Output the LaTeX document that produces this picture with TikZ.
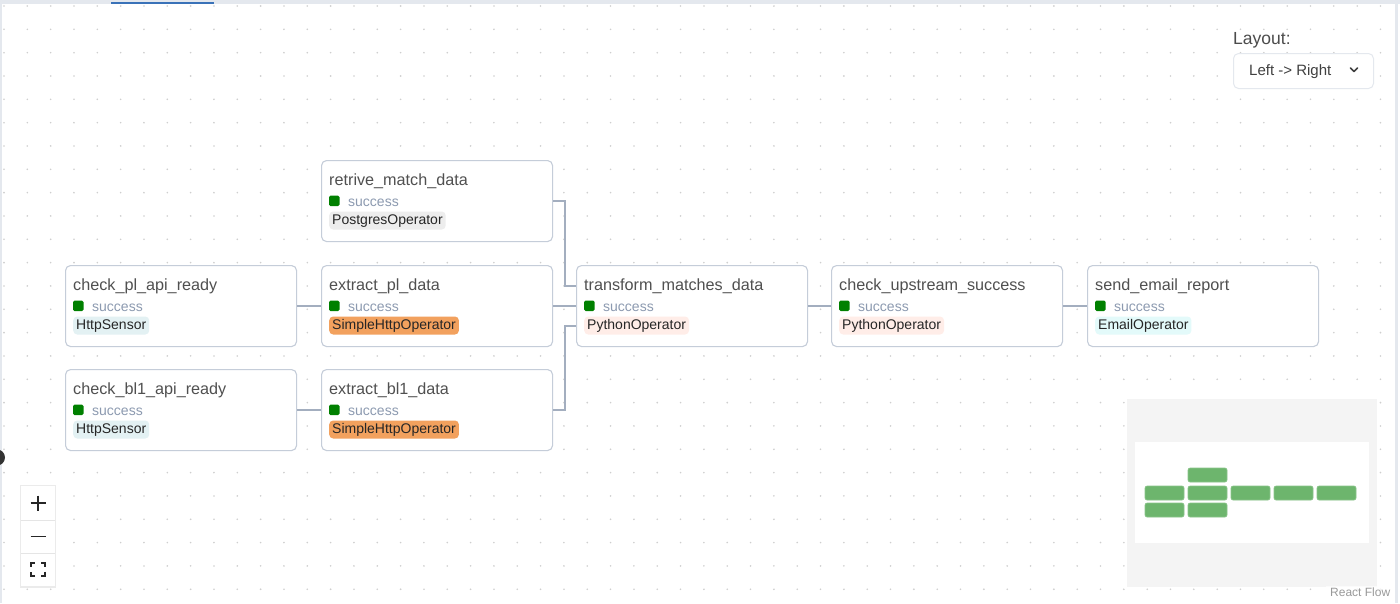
\documentclass[tikz,border=0pt]{standalone}
\usepackage{fontspec}
\setmainfont{Liberation Sans}
\usetikzlibrary{calc}
\definecolor{nodeborder}{HTML}{C5CDD9}
\definecolor{edgecol}{HTML}{A3AEBF}
\definecolor{titlecol}{HTML}{505050}
\definecolor{succtext}{HTML}{8C9AB0}
\definecolor{succgreen}{HTML}{008000}
\definecolor{dotcol}{HTML}{CFCFCF}
\definecolor{pgbadge}{HTML}{EDEDED}
\definecolor{httpbadge}{HTML}{E3F1F3}
\definecolor{simplebadge}{HTML}{F2A15E}
\definecolor{pybadge}{HTML}{FFEDE8}
\definecolor{emailbadge}{HTML}{E3FAFA}
\definecolor{framecol}{HTML}{E4E8EE}
\definecolor{tabblue}{HTML}{3A72B8}
\definecolor{minibg}{HTML}{F4F4F4}
\definecolor{minigreen}{HTML}{6DB56D}
\tikzset{
  taskbox/.style={draw=nodeborder, line width=1.1pt, fill=white, rounded corners=5pt,
    minimum width=231pt, minimum height=81pt, inner sep=0pt, anchor=north west},
  tasktitle/.style={anchor=west, inner sep=0pt, text=titlecol, font=\fontsize{16.2}{18}\selectfont},
  succlabel/.style={anchor=west, inner sep=0pt, text=succtext, font=\fontsize{14}{16}\selectfont},
  badge/.style={anchor=west, rounded corners=4pt, inner xsep=3pt, inner ysep=0pt,
    text height=12pt, text depth=4pt, minimum height=18pt, text=black!85,
    font=\fontsize{14}{16}\selectfont},
  edge/.style={draw=edgecol, line width=2pt},
  minibox/.style={fill=minigreen, draw=minigreen!80!white, line width=0.6pt, rounded corners=2pt},
}
\newcommand{\tasknode}[6]{%
  \node[taskbox] (#1) at (#2,#3) {};
  \node[tasktitle] (#1-t) at ({#2+8},{#3+21.5}) {#4};
  \fill[succgreen, rounded corners=1.5pt] ({#2+8},{#3+35.5}) rectangle ({#2+18.5},{#3+46});
  \node[succlabel] (#1-s) at ({#2+27},{#3+42.5}) {success};
  \node[badge, fill=#6] (#1-b) at ({#2+8},{#3+60.5}) {#5};
}
\begin{document}
\begin{tikzpicture}[x=1pt, y=-1pt]
\useasboundingbox (0,0) rectangle (1400,603);
\fill[white] (0,0) rectangle (1400,603);
% dot grid
\foreach \i in {0,...,59} {
  \foreach \j in {0,...,25} {
    \fill[dotcol] ({4+23.33*\i},{6+23.33*\j}) circle (0.9);
  }
}
% frame
\fill[framecol] (0,0) rectangle (1400,3.5);
\fill[framecol] (0,0) rectangle (2,603);
\fill[framecol] (1395,0) rectangle (1397.5,603);
\fill[white] (1397.5,3.5) rectangle (1400,603);
\fill[tabblue] (111,1.5) rectangle (214,4);
% handle on the left edge
\fill[black!80] (-3,457.5) circle (8);

% task nodes
\tasknode{rmd}{321}{160}{retrive\_match\_data}{PostgresOperator}{pgbadge}
\tasknode{cpl}{65}{265}{check\_pl\_api\_ready}{HttpSensor}{httpbadge}
\tasknode{epl}{321}{265}{extract\_pl\_data}{SimpleHttpOperator}{simplebadge}
\tasknode{tmd}{576}{265}{transform\_matches\_data}{PythonOperator}{pybadge}
\tasknode{cus}{831}{265}{check\_upstream\_success}{PythonOperator}{pybadge}
\tasknode{ser}{1087}{265}{send\_email\_report}{EmailOperator}{emailbadge}
\tasknode{cbl}{65}{369}{check\_bl1\_api\_ready}{HttpSensor}{httpbadge}
\tasknode{ebl}{321}{369}{extract\_bl1\_data}{SimpleHttpOperator}{simplebadge}

% connectors
\draw[edge] (cpl.east) -- (epl.west);
\draw[edge] (cbl.east) -- (ebl.west);
\draw[edge] (epl.east) -- (tmd.west);
\draw[edge] (rmd.east) -- ++(12,0) |- ([yshift=20pt]tmd.west);
\draw[edge] (ebl.east) -- ++(12,0) |- ([yshift=-20pt]tmd.west);
\draw[edge] (tmd.east) -- (cus.west);
\draw[edge] (cus.east) -- (ser.west);

% layout selector
\node[anchor=west, inner sep=0pt, text=black!70, font=\fontsize{17.5}{19}\selectfont] (laylabel) at (1233,40.5) {Layout:};
\node[draw=framecol, line width=1pt, fill=white, rounded corners=5pt, anchor=north west,
      minimum width=140pt, minimum height=35pt, inner sep=0pt] (laybox) at (1233,53) {};
\node[anchor=west, inner sep=0pt, text=black!75, font=\fontsize{15}{17}\selectfont] (laytext) at (1249,71.5) {Left -> Right};
\draw[black!75, line width=1.6pt, line cap=round, line join=round] (1350.5,68) -- (1354,71.5) -- (1357.5,68);

% zoom controls
\fill[black!8] (20,485) rectangle (56,587.5);
\node[fill=white, anchor=north west, minimum width=34pt, minimum height=100pt, inner sep=0pt] (ctrl) at (21,486) {};
\draw[black!10, line width=1pt] (21,520) -- (55,520);
\draw[black!10, line width=1pt] (21,553) -- (55,553);
\draw[black!85, line width=1.8pt] (30.5,503) -- (45.5,503) (38,495.5) -- (38,510.5);
\draw[black!85, line width=1.8pt] (30.5,536.5) -- (45.5,536.5);
\draw[black!85, line width=2pt]
  (31,566.5) -- (31,562.5) -- (35,562.5)
  (41,562.5) -- (45,562.5) -- (45,566.5)
  (45,571.5) -- (45,575.5) -- (41,575.5)
  (35,575.5) -- (31,575.5) -- (31,571.5);

% minimap
\node[fill=minibg, anchor=north west, minimum width=250pt, minimum height=188pt, inner sep=0pt] (mini) at (1127,399) {};
\node[fill=white, anchor=north west, minimum width=234pt, minimum height=101pt, inner sep=0pt] (miniview) at (1135,442) {};
\path[minibox] (1188,468) rectangle (1227,482);
\path[minibox] (1145,486) rectangle (1184,500);
\path[minibox] (1188,486) rectangle (1227,500);
\path[minibox] (1231,486) rectangle (1270,500);
\path[minibox] (1274,486) rectangle (1313,500);
\path[minibox] (1317,486) rectangle (1356,500);
\path[minibox] (1145,503) rectangle (1184,517);
\path[minibox] (1188,503) rectangle (1227,517);

% attribution
\node[fill=white, fill opacity=0.7, text opacity=1, anchor=north west, inner xsep=4pt, inner ysep=2pt,
      text=black!40, font=\fontsize{12}{14}\selectfont] (attrib) at (1326,586) {React Flow};
\end{tikzpicture}
\end{document}
